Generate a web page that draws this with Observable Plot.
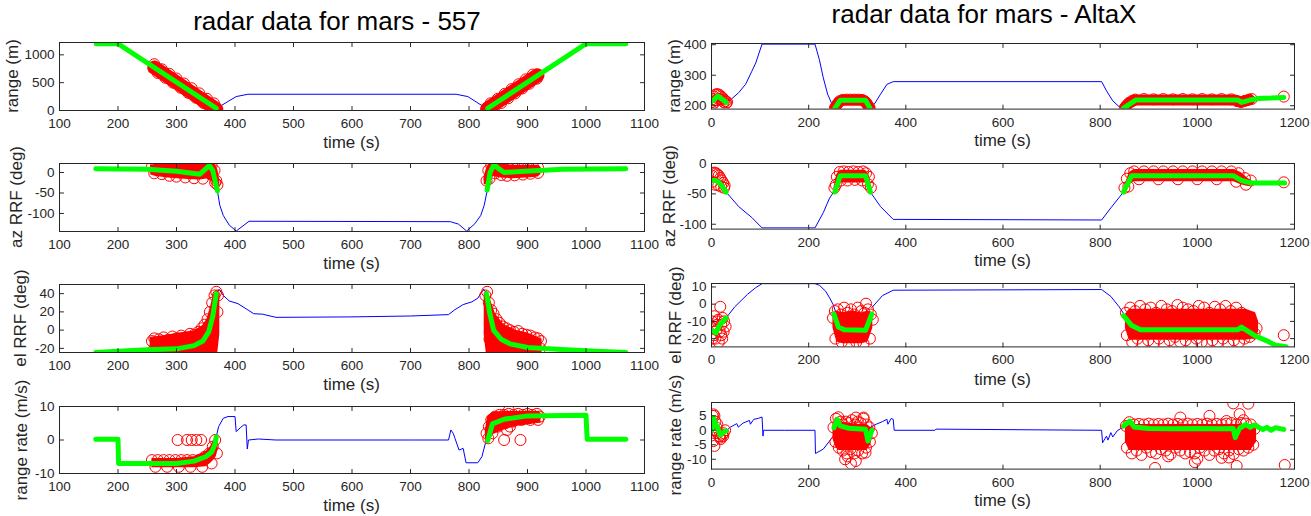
<!DOCTYPE html>
<html><head><meta charset="utf-8">
<script src="https://cdn.jsdelivr.net/npm/d3@7"></script>
<script src="https://cdn.jsdelivr.net/npm/@observablehq/plot@0.6"></script>
<style>
body{margin:0;background:#fff;}
#fig{position:relative;width:1311px;height:516px;overflow:hidden;font-family:"Liberation Sans",Arial,sans-serif;color:#262626;background:#fff;}
.title{position:absolute;font-size:26px;white-space:nowrap;transform:translate(-50%,-50%);color:#000;}
.xl{position:absolute;font-size:17px;white-space:nowrap;transform:translate(-50%,-50%);color:#262626;}
.yl{position:absolute;font-size:17px;white-space:nowrap;transform:translate(-50%,-50%) rotate(-90deg);color:#262626;}
</style></head><body><div id="fig"></div>
<script>
// ---------- data ----------
const titles = ["radar data for mars - 557", "radar data for mars - AltaX"];
const yLabels = ["range (m)", "az RRF (deg)", "el RRF (deg)", "range rate (m/s)"];
const xLabel = "time (s)";
const leftTimeTicks = [100,200,300,400,500,600,700,800,900,1000,1100];
const rightTimeTicks = [0,200,400,600,800,1000,1200];

// L1 range 557
const L1_yTicks = [0,500,1000];
const L1_yDomain = [0,1222];
const L1_blueT = [368,402,422,778,798,830];
const L1_blueV = [35,250,292,292,250,35];
const L1_greenT = [163,200,368,NaN,832,1000,1068];
const L1_greenV = [1200,1200,40,NaN,40,1200,1200];
const L1_thickT = [262,368,NaN,831,917];
const L1_thickV = [772,25,NaN,30,632];
const L1_redT = [262,268,275,281,288,294,300,307,313,320,326,333,339,346,352,358,364,368,
                 831,837,843,849,855,861,867,873,879,885,891,897,903,909,916];
const L1_redV = [832,675,740,588,658,500,575,410,485,318,400,230,308,135,210,50,128,5,
                 0,130,50,210,135,300,220,385,308,472,395,560,480,645,572];

// L2 az 557
const L2_yTicks = [-100,-50,0];
const L2_yDomain = [-144,22];
const L2_blueT = [370,374,380,390,402,424,768,782,796,810,820,826,831];
const L2_blueV = [-45,-80,-105,-128,-143,-119,-120,-126,-143,-125,-105,-80,-45];
const L2_greenT = [162,250,300,340,356,362,370,NaN,831,836,843,850,860,880,920,960,1068];
const L2_greenV = [9,8,3,-4,17,5,-45,NaN,-43,0,20,10,0,2,5,8,9];
const L2_bandAT = [256,265,290,320,340,352,360,366,371,374];
const L2_bandAHi = [18,20,20,20,20,22,24,20,5,-20];
const L2_bandALo = [-6,-10,-14,-17,-18,-16,-22,-30,-36,-40];
const L2_bandBT = [826,830,836,842,850,860,875,890,905,918,923];
const L2_bandBHi = [-10,10,24,24,24,20,18,18,18,18,13];
const L2_bandBLo = [-30,-30,-20,-10,-12,-14,-15,-14,-13,-11,-5];
const L2_redT = [258,265,272,280,290,300,310,320,330,340,348,355,360,365,368,370,262,275,288,300,315,330,345,358,366,
                 830,833,838,843,848,855,862,870,880,890,900,910,918,835,845,855,865,878,892,905,918];
const L2_redV = [14,16,15,14,12,10,9,7,5,6,14,18,17,5,-20,-30,-2,-4,-8,-10,-12,-14,-15,-3,-25,
                 -20,5,18,22,18,10,8,9,10,11,12,13,12,-15,-2,-6,-8,-7,-5,-3,-1];

// L3 el 557
const L3_yTicks = [-20,0,20,40];
const L3_yDomain = [-24.5,50];
const L3_blueT = [368,373,380,390,405,420,432,447,470,600,700,765,775,790,805,815,825,830];
const L3_blueV = [40,44.5,38,32,29,23,18,17.5,14,14.5,15.5,17,22,28,31,35,45,40];
const L3_greenT = [162,200,250,300,330,345,355,362,368,NaN,830,835,842,855,870,900,950,1000,1068];
const L3_greenV = [-24.5,-23,-21.5,-20.5,-17,-12,-2,15,40,NaN,40,20,0,-10,-15,-19,-21,-22.5,-24.5];
const L3_bandAT = [255,280,305,330,345,352,358,364,370,374];
const L3_bandAHi = [-8,-6,-3,-1,5,12,25,40,43,40];
const L3_bandALo = [-28,-28,-28,-28,-28,-28,-28,-28,-28,-5];
const L3_bandBT = [826,830,836,845,860,880,900,915,925];
const L3_bandBHi = [40,43,35,18,6,0,-3,-7,-10];
const L3_bandBLo = [-5,-28,-28,-28,-28,-28,-28,-28,-25];
const L3_redT = [258,262,270,278,285,293,300,308,316,323,330,337,343,348,353,357,361,365,368,371,260,275,290,305,320,335,350,362,370,
                 828,831,834,838,842,847,852,858,864,870,877,884,891,898,905,912,918,923,835,850,865,880,895,910,922];
const L3_redV = [-12,-9,-10,-8,-11,-7,-9,-6,-8,-4,-5,-2,2,6,12,20,30,38,42,38,-22,-22,-23,-22,-21,-20,-15,0,20,
                 38,42,30,22,18,12,8,4,2,0,-2,-1,-4,-5,-6,-8,-9,-12,-10,-15,-18,-20,-21,-22,-20];

// L4 range rate 557
const L4_yTicks = [-10,0,10];
const L4_yDomain = [-10,10];
const L4_blueT = [368,372,380,388,400,402,410,415,419,421,423,440,470,700,765,769,773,776,783,790,795,815,822,828,832];
const L4_blueV = [1,4,6.5,7,7,2.5,3.8,4.5,4.5,-2.7,0,0.3,0,0,0,3,2,0.5,-3,-2.5,-6.8,-6.8,-5,-1,0];
const L4_greenT = [162,200,201,300,330,350,360,366,368,NaN,832,840,860,900,1000,1002,1068];
const L4_greenV = [0.2,0.2,-7,-7,-6.3,-5,-3.6,-1.2,1,NaN,-0.2,4.8,6.2,7.2,7.4,0.2,0.2];
const L4_bandAT = [258,300,330,350,358,364,368,371];
const L4_bandAHi = [-5.5,-5.5,-5,-3.5,-2,0,1,0];
const L4_bandALo = [-8.3,-8.3,-8.3,-8,-7,-6,-5,-3];
const L4_bandBT = [828,832,840,860,880,900,920,923];
const L4_bandBHi = [3,7,8.3,8.5,8.5,8.5,8.5,8];
const L4_bandBLo = [-1,0,1.5,3,4,4.5,5,5];
const L4_redT = [258,268,278,288,298,308,318,328,338,348,356,362,366,369,264,284,304,324,344,360,302,318,326,334,342,
                 830,834,838,845,852,860,868,876,884,892,900,908,916,921,833,840,850,862,875,890,905,918,860,888,865,870,868];
const L4_redV = [-6,-6,-6,-6,-6,-6,-6,-6,-6,-5,-4,-2,0,-4,-8,-8,-8,-8,-8,-7,0,0,0,0,0,
                 2,4,6,7,7.5,7.5,7.8,7.5,7.8,7.5,7.8,7.5,7.8,7,0.5,2,4,5,5.5,6,6,6,0,0,3,4,8.8];

// R1 range AltaX
const R1_yTicks = [200,300,400];
const R1_yDomain = [189,404];
const R1_blueT = [25,39,56,70,83,91,104,213,222,230,239,248,254,NaN,326,335,348,361,374,803,813,826,839,848];
const R1_blueV = [214,219,243,270,313,340,402,402,351,292,238,205,192,NaN,192,205,238,270,279,279,249,216,197,192];
const R1_greenT = [0,4,13,22,30,NaN,254,265,317,326,NaN,848,874,1083,1091,1109,1126,1152,1178];
const R1_greenV = [214,218,232,221,211,NaN,192,218,218,192,NaN,192,219,219,211,219,224,225,227];
const R1_thickT = [254,262,270,310,318,326,NaN,851,860,872,1078,1088,1098,1108];
const R1_thickV = [194,212,219,219,212,194,NaN,195,210,219,219,212,216,220];
const R1_redT = [1,3,5,8,11,14,17,20,23,26,29,32,2,6,10,15,20,25,30,
                 254,257,260,264,270,278,286,294,302,310,315,319,322,325,
                 851,855,860,866,872,890,910,930,950,970,990,1010,1030,1050,1070,1082,1090,1098,1106,1112,1178];
const R1_redV = [212,222,230,236,238,237,234,230,225,220,215,212,205,210,218,222,220,212,207,
                 192,200,208,215,219,220,220,220,220,219,215,208,200,193,
                 194,202,210,216,220,222,221,222,221,222,221,222,221,222,221,215,212,216,220,222,230];

// R2 az AltaX
const R2_yTicks = [-100,-50,0];
const R2_yDomain = [-108,0];
const R2_blueT = [30,56,83,104,213,230,243,254,NaN,326,348,374,803,822,848];
const R2_blueV = [-47,-71,-89,-106,-106,-81,-57,-44,NaN,-46,-71,-92,-93,-73,-47];
const R2_greenT = [2,8,14,20,26,30,NaN,254,265,317,327,NaN,848,865,1074,1091,1109,1180];
const R2_greenV = [-28,-28,-30,-36,-42,-47,NaN,-47,-20,-20,-47,NaN,-47,-20,-20,-28,-32,-32];
const R2_bandAT = [252,258,265,317,324,330];
const R2_bandAHi = [-40,-18,-11,-11,-18,-40];
const R2_bandALo = [-46,-38,-32,-32,-38,-46];
const R2_bandBT = [850,860,870,1075,1090,1105,1112];
const R2_bandBHi = [-38,-15,-10,-10,-15,-25,-28];
const R2_bandBLo = [-50,-35,-30,-30,-35,-38,-36];
const R2_redT = [1,3,6,9,12,15,18,21,24,27,2,8,14,20,26,
                 253,258,264,272,282,292,302,312,318,324,328,256,266,280,295,310,322,
                 850,855,862,870,890,910,930,950,970,990,1010,1030,1050,1070,1085,1098,1110,858,880,920,960,1000,1040,1080,1100,1178];
const R2_redV = [-20,-16,-15,-16,-18,-20,-24,-28,-32,-36,-30,-35,-36,-38,-40,
                 -40,-22,-14,-13,-14,-13,-14,-13,-16,-22,-40,-35,-28,-28,-27,-28,-34,
                 -40,-25,-16,-13,-13,-13,-13,-13,-13,-13,-13,-13,-13,-13,-16,-24,-28,-38,-26,-26,-26,-26,-26,-30,-35,-31];

// R3 el AltaX
const R3_yTicks = [-20,-10,0,10];
const R3_yDomain = [-24.8,12];
const R3_blueT = [30,48,74,91,104,213,222,235,243,250,255,NaN,330,352,374,803,822,839,848];
const R3_blueV = [-8,-1.5,5.7,9.6,11.9,11.9,11,7.5,3.7,0,-4,NaN,-2,5,8.1,8.5,4.5,-1.5,-5.3];
const R3_greenT = [3,9,17,30,NaN,252,261,274,317,326,330,NaN,848,865,883,1083,1091,1117,1143,1161,1183];
const R3_greenV = [-15.7,-16.7,-12,-8,NaN,-5.7,-13.3,-14.9,-15.2,-8.6,-5.7,NaN,-6.7,-12.4,-14.9,-14.9,-13.3,-18,-21.3,-23.8,-24.7];
const R3_bandAT = [250,258,270,290,310,322,332];
const R3_bandAHi = [-5,-4,-5,-4,-5,-4,-5];
const R3_bandALo = [-14,-22,-23,-23,-23,-22,-14];
const R3_bandBT = [852,860,1100,1120,1126];
const R3_bandBHi = [-6,-3,-3,-5,-10];
const R3_bandBLo = [-14,-21,-21,-20,-16];
const R3_redT = [1,3,5,8,11,14,17,20,23,26,29,2,6,10,15,20,25,18,4,12,22,
                 250,254,260,266,273,280,287,294,301,308,315,322,328,332,255,268,283,298,313,326,318,262,290,
                 853,862,872,882,893,904,915,926,937,948,959,970,981,992,1003,1014,1025,1036,1047,1058,1069,1080,1091,1102,1113,1122,
                 855,866,877,888,899,910,921,932,943,954,965,976,987,998,1009,1020,1031,1042,1053,1064,1075,1086,1097,1108,1118,1178];
const R3_redV = [-10,-14,-18,-20,-12,-9,-16,-12,-8,-10,-13,-20,-7,-15,-22,-18,-16,-1.5,-13,-10,-20,
                 -8,-4,-3,-6,-2,-5,-3,-6,-2,-4,-5,-3,-6,-9,-20,-22,-23.5,-22,-23,-20,0.3,-12,-17,
                 -5,-2,-4,-1,-3,-2,-5,-1,-3,-4,-0.5,-2,-3,-4,-1,-2,-5,-1.5,-3,-1,-4,-2,-5,-8,-11,-14,
                 -18,-22,-20,-23,-21,-22.5,-20,-23,-21,-19,-22,-21,-23.5,-20,-22,-23,-21,-22,-20,-23,-21,-22,-20,-19,-17,-18];

// R4 range rate AltaX
const R4_yTicks = [-10,-5,0,5];
const R4_yDomain = [-13.4,9.6];
const R4_blueT = [26,39,52,55,65,78,80,87,96,104,106,107,150,213,214,230,243,254,NaN,326,339,352,361,363,370,374,376,460,462,803,805,813,816,822,826,835,843,848];
const R4_blueV = [-0.8,1.1,2.3,1.1,2.5,3.4,2.1,3.8,4.1,4.6,-2,0,0,0,-8,-6.5,-3.7,-1.4,NaN,0.9,2.1,3,3.8,2.1,4.1,3.8,0,0,0.4,0,-4.3,-2,-3.4,-0.8,-2.3,-0.2,0.7,0.9];
const R4_greenT = [1,4,9,13,17,22,30,NaN,252,259,265,283,317,322,330,NaN,848,861,870,900,950,1000,1050,1074,1078,1087,1100,1109,1117,1135,1143,1152,1161,1178];
const R4_greenV = [0,4.4,2,1,-1.6,-1.1,-0.2,NaN,0.9,3.8,1.5,0.7,0.4,-3.7,0,NaN,1.5,3.2,1.1,0.6,0.5,0.6,0.5,0.6,-2.5,0.7,2,1,1.8,0.3,1,0,0.9,0.3];
const R4_bandAT = [250,256,262,300,320,328,332];
const R4_bandAHi = [2,4.5,3,2,2,1,0];
const R4_bandALo = [-3,-6,-7,-7,-7,-5,-2];
const R4_bandBT = [852,860,1110,1122];
const R4_bandBHi = [1,2,2,1];
const R4_bandBLo = [-4,-7,-7,-4];
const R4_redT = [0,2,4,6,8,10,13,16,19,22,25,28,3,7,12,18,24,4,6,
                 251,256,261,266,271,277,283,289,295,301,307,313,319,325,330,255,262,270,278,286,294,302,310,318,326,275,287,297,317,313,297,280,
                 853,860,870,880,890,900,910,920,930,940,950,960,970,980,990,1000,1010,1020,1030,1040,1050,1060,1070,1080,1090,1100,1110,1118,
                 855,865,875,885,895,905,915,925,935,945,955,965,975,985,995,1005,1015,1025,1035,1045,1055,1065,1075,1085,1095,1105,1115,
                 913,995,1025,1074,1105,1081,1065,965,1087,1180,940,1050,1095,1060,1000];
const R4_redV = [3,5,5.5,5,3,1,-1,-2,-3,-1.5,-1,0,0,-1,2,-2.5,-2,-3.7,-5.4,
                 1,4,4.5,3,2,3,2.5,3.5,2,3,2.5,4,2,1,-1,-4,-6,-7,-8,-6.5,-8,-7,-8,-6,-4,-10,-11.5,-10.6,-7.7,4.4,4.4,-9,
                 1.5,2.8,2,2.2,2,2.3,2,2.2,2,2.3,2,2.2,2,2.3,2,2.2,2,2.3,2,2.2,2,2.3,2.5,2,2.5,2.3,2,0.5,
                 -6,-8,-7,-8.5,-6,-7.5,-8,-6.5,-7,-8.3,-6,-7,-8,-7.5,-8,-6,-7,-8.5,-7,-6.5,-8,-7,-8.2,-6.5,-7,-6,-5,
                 -13,-11,5,9.3,9.2,-12.3,-9.4,4.4,5.6,-12,-9,-9.5,3.5,3.2,-9.8];

// ---------- layout ----------
const panels = [
  {left:59, top:42, w:585, h:68, xDomain:[100,1100], xTicks:leftTimeTicks, yDomain:L1_yDomain, yTicks:L1_yTicks,
   blue:[L1_blueT,L1_blueV], green:[L1_greenT,L1_greenV], bands:[], thick:[L1_thickT,L1_thickV], thickW:14, red:[L1_redT,L1_redV], yl:0, ylx:13},
  {left:59, top:163, w:585, h:68, xDomain:[100,1100], xTicks:leftTimeTicks, yDomain:L2_yDomain, yTicks:L2_yTicks,
   blue:[L2_blueT,L2_blueV], green:[L2_greenT,L2_greenV], bands:[[L2_bandAT,L2_bandALo,L2_bandAHi],[L2_bandBT,L2_bandBLo,L2_bandBHi]], red:[L2_redT,L2_redV], yl:1, ylx:17},
  {left:59, top:284, w:585, h:68, xDomain:[100,1100], xTicks:leftTimeTicks, yDomain:L3_yDomain, yTicks:L3_yTicks,
   blue:[L3_blueT,L3_blueV], green:[L3_greenT,L3_greenV], bands:[[L3_bandAT,L3_bandALo,L3_bandAHi],[L3_bandBT,L3_bandBLo,L3_bandBHi]], red:[L3_redT,L3_redV], yl:2, ylx:21},
  {left:59, top:406, w:585, h:67, xDomain:[100,1100], xTicks:leftTimeTicks, yDomain:L4_yDomain, yTicks:L4_yTicks,
   blue:[L4_blueT,L4_blueV], green:[L4_greenT,L4_greenV], bands:[[L4_bandAT,L4_bandALo,L4_bandAHi],[L4_bandBT,L4_bandBLo,L4_bandBHi]], red:[L4_redT,L4_redV], yl:3, ylx:22},
  {left:711, top:42.7, w:583, h:65.6, xDomain:[0,1200], xTicks:rightTimeTicks, yDomain:R1_yDomain, yTicks:R1_yTicks,
   blue:[R1_blueT,R1_blueV], green:[R1_greenT,R1_greenV], bands:[], thick:[R1_thickT,R1_thickV], thickW:11, red:[R1_redT,R1_redV], yl:0, ylx:675},
  {left:711, top:162.7, w:583, h:65.6, xDomain:[0,1200], xTicks:rightTimeTicks, yDomain:R2_yDomain, yTicks:R2_yTicks,
   blue:[R2_blueT,R2_blueV], green:[R2_greenT,R2_greenV], bands:[[R2_bandAT,R2_bandALo,R2_bandAHi],[R2_bandBT,R2_bandBLo,R2_bandBHi]], red:[R2_redT,R2_redV], yl:1, ylx:670},
  {left:711, top:283.3, w:583, h:63.4, xDomain:[0,1200], xTicks:rightTimeTicks, yDomain:R3_yDomain, yTicks:R3_yTicks,
   blue:[R3_blueT,R3_blueV], green:[R3_greenT,R3_greenV], bands:[[R3_bandAT,R3_bandALo,R3_bandAHi],[R3_bandBT,R3_bandBLo,R3_bandBHi]], red:[R3_redT,R3_redV], yl:2, ylx:676},
  {left:711, top:401.7, w:583, h:66.6, xDomain:[0,1200], xTicks:rightTimeTicks, yDomain:R4_yDomain, yTicks:R4_yTicks,
   blue:[R4_blueT,R4_blueV], green:[R4_greenT,R4_greenV], bands:[[R4_bandAT,R4_bandALo,R4_bandAHi],[R4_bandBT,R4_bandBLo,R4_bandBHi]], red:[R4_redT,R4_redV], yl:3, ylx:676}
];

const fig = document.getElementById("fig");
const ML = 50, MR = 25, MT = 10, MB = 30;
const AXIS = "#262626";
const tickShape = {draw(context, l) { context.moveTo(0, 0); context.lineTo(0, -l); }};
const fmt = d => String(d);
function pts(t, v) { const a = []; for (let i = 0; i < t.length; i++) a.push({x: t[i], y: v[i]}); return a; }
function bandPts(t, lo, hi) { const a = []; for (let i = 0; i < t.length; i++) a.push({x: t[i], y1: lo[i], y2: hi[i]}); return a; }
function addDiv(cls, text, x, y) {
  const d = document.createElement("div"); d.className = cls; d.textContent = text;
  d.style.left = x + "px"; d.style.top = y + "px"; fig.appendChild(d);
}

for (const p of panels) {
  const marks = [];
  marks.push(Plot.line(pts(p.blue[0], p.blue[1]), {x:"x", y:"y", stroke:"#0000ff", strokeWidth:1, clip:true}));
  for (const b of p.bands) marks.push(Plot.areaY(bandPts(b[0], b[1], b[2]), {x:"x", y1:"y1", y2:"y2", fill:"#ff0000", clip:true}));
  if (p.thick) marks.push(Plot.line(pts(p.thick[0], p.thick[1]), {x:"x", y:"y", stroke:"#ff0000", strokeWidth:p.thickW, strokeLinecap:"round", strokeLinejoin:"round", clip:true}));
  marks.push(Plot.dot(pts(p.red[0], p.red[1]), {x:"x", y:"y", r:5.5, stroke:"#ff0000", strokeWidth:1, clip:true}));
  marks.push(Plot.line(pts(p.green[0], p.green[1]), {x:"x", y:"y", stroke:"#00ff00", strokeWidth:5, clip:true}));
  marks.push(Plot.frame({stroke:AXIS}));
  // inward tick marks on all four sides
  marks.push(Plot.vector(p.xTicks, {x: d => d, frameAnchor:"bottom", rotate:0, length:4, anchor:"start", shape:tickShape, stroke:AXIS, strokeWidth:1}));
  marks.push(Plot.vector(p.xTicks, {x: d => d, frameAnchor:"top", rotate:180, length:4, anchor:"start", shape:tickShape, stroke:AXIS, strokeWidth:1}));
  marks.push(Plot.vector(p.yTicks, {y: d => d, frameAnchor:"left", rotate:90, length:4, anchor:"start", shape:tickShape, stroke:AXIS, strokeWidth:1}));
  marks.push(Plot.vector(p.yTicks, {y: d => d, frameAnchor:"right", rotate:-90, length:4, anchor:"start", shape:tickShape, stroke:AXIS, strokeWidth:1}));
  marks.push(Plot.axisX(p.xTicks, {anchor:"bottom", tickSize:0, tickPadding:8, tickFormat:fmt, label:null}));
  marks.push(Plot.axisY(p.yTicks, {anchor:"left", tickSize:0, tickPadding:5, tickFormat:fmt, label:null}));
  const svg = Plot.plot({
    width: ML + p.w + MR, height: MT + p.h + MB,
    marginLeft: ML, marginRight: MR, marginTop: MT, marginBottom: MB,
    x: {domain: p.xDomain}, y: {domain: p.yDomain},
    style: {background: "transparent", overflow: "visible", fontFamily: "'Liberation Sans', Arial, sans-serif", fontSize: "13.5px", color: AXIS},
    marks
  });
  svg.style.position = "absolute";
  svg.style.left = (p.left - ML) + "px";
  svg.style.top = (p.top - MT) + "px";
  svg.style.maxWidth = "none";
  fig.appendChild(svg);
  addDiv("yl", yLabels[p.yl], p.ylx, p.top + p.h / 2);
  addDiv("xl", xLabel, p.left + p.w / 2, p.top + p.h + 33);
}
addDiv("title", titles[0], 337, 21);
addDiv("title", titles[1], 984, 14);
</script></body></html>
